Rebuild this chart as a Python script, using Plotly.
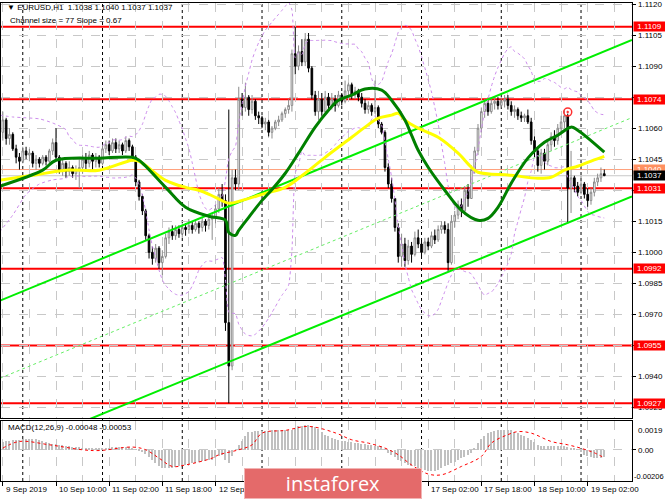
import plotly.graph_objects as go
import pandas as pd

# ---------------- data ----------------
open0 = 1.1058
closes = [1.1064,1.1055,1.1057,1.1050,1.1046,1.1044,1.1049,1.1047,1.1048,1.1043,
          1.1045,1.1043,1.1046,1.1044,1.1049,1.1053,1.1046,1.1040,1.1043,1.1039,
          1.1041,1.1038,1.1040,1.1041,1.1045,1.1043,1.1047,1.1044,1.1046,1.1043,
          1.1050,1.1052,1.1049,1.1053,1.1050,1.1052,1.1049,1.1054,1.1051,1.1046,
          1.1034,1.1027,1.1020,1.1008,1.1000,1.0997,1.1002,1.0995,1.0998,1.1007,
          1.1010,1.1008,1.1011,1.1009,1.1012,1.1011,1.1013,1.1011,1.1014,1.1012,
          1.1015,1.1013,1.1016,1.1017,1.1021,1.1028,1.1025,1.0966,1.0945,1.1036,
          1.1033,1.1074,1.1070,1.1075,1.1069,1.1073,1.1066,1.1065,1.1062,1.1063,
          1.1058,1.1060,1.1063,1.1064,1.1067,1.1069,1.1071,1.1096,1.1090,1.1097,
          1.1092,1.1103,1.1089,1.1076,1.1068,1.1074,1.1068,1.1075,1.1071,1.1074,
          1.1071,1.1076,1.1073,1.1078,1.1081,1.1076,1.1078,1.1075,1.1072,1.1069,
          1.1071,1.1068,1.1070,1.1062,1.1058,1.1041,1.1033,1.1026,1.1012,1.0998,
          1.1004,1.0996,1.1003,1.0999,1.1007,1.1004,1.1000,1.1005,1.1003,1.1008,
          1.1006,1.1011,1.1013,1.1011,1.0995,1.1015,1.1018,1.1023,1.1020,1.1030,
          1.1026,1.1040,1.1049,1.1060,1.1068,1.1072,1.1068,1.1072,1.1073,1.1071,
          1.1073,1.1074,1.1071,1.1068,1.1069,1.1066,1.1065,1.1066,1.1063,1.1054,
          1.1049,1.1042,1.1048,1.1044,1.1052,1.1056,1.1054,1.1060,1.1063,1.1066,
          1.1031,1.1036,1.1032,1.1029,1.1033,1.1028,1.1025,1.1029,1.1034,1.1036,
          1.1038,1.1037]
highs = [1.1068,1.1065,1.1060,1.1058,1.1052,1.1048,1.1051,1.1051,1.1050,1.1049,
         1.1047,1.1046,1.1047,1.1047,1.1050,1.1055,1.1060,1.1047,1.1045,1.1044,
         1.1044,1.1042,1.1042,1.1045,1.1047,1.1048,1.1049,1.1048,1.1048,1.1047,
         1.1052,1.1054,1.1054,1.1055,1.1055,1.1054,1.1053,1.1056,1.1055,1.1052,
         1.1047,1.1035,1.1028,1.1021,1.1009,1.1003,1.1004,1.1003,1.1001,1.1009,
         1.1012,1.1013,1.1013,1.1013,1.1014,1.1014,1.1016,1.1015,1.1016,1.1015,
         1.1017,1.1016,1.1018,1.1019,1.1023,1.1031,1.1033,1.1028,1.1069,1.1040,
         1.1040,1.1080,1.1077,1.1082,1.1076,1.1076,1.1074,1.1068,1.1066,1.1065,
         1.1064,1.1061,1.1064,1.1066,1.1068,1.1070,1.1074,1.1098,1.1109,1.1100,
         1.1103,1.1106,1.1106,1.1090,1.1078,1.1078,1.1077,1.1078,1.1077,1.1077,
         1.1076,1.1078,1.1077,1.1083,1.1082,1.1082,1.1080,1.1079,1.1077,1.1074,
         1.1073,1.1072,1.1083,1.1071,1.1063,1.1059,1.1043,1.1036,1.1026,1.1014,
         1.1009,1.1007,1.1006,1.1005,1.1010,1.1011,1.1006,1.1007,1.1007,1.1010,
         1.1011,1.1013,1.1015,1.1015,1.1014,1.1018,1.1020,1.1025,1.1026,1.1032,
         1.1033,1.1042,1.1051,1.1062,1.1070,1.1074,1.1074,1.1074,1.1075,1.1075,
         1.1075,1.1076,1.1076,1.1073,1.1071,1.1070,1.1068,1.1067,1.1069,1.1065,
         1.1056,1.1050,1.1050,1.1050,1.1054,1.1058,1.1059,1.1062,1.1066,1.1069,
         1.1067,1.1049,1.1037,1.1034,1.1037,1.1034,1.1031,1.1031,1.1036,1.1038,
         1.1041,1.1040]
lows = [1.1054,1.1052,1.1052,1.1049,1.1043,1.1040,1.1043,1.1045,1.1044,1.1041,
        1.1040,1.1041,1.1042,1.1042,1.1043,1.1047,1.1044,1.1038,1.1037,1.1036,
        1.1037,1.1036,1.1035,1.1031,1.1038,1.1040,1.1041,1.1040,1.1041,1.1041,
        1.1042,1.1048,1.1047,1.1048,1.1048,1.1048,1.1047,1.1048,1.1049,1.1044,
        1.1032,1.1025,1.1018,1.1006,1.0997,1.0994,1.0995,1.0992,1.0989,1.0997,
        1.1004,1.1006,1.1006,1.1007,1.1007,1.1008,1.1009,1.1009,1.1010,1.1009,
        1.1010,1.1010,1.1011,1.1006,1.1014,1.1019,1.1022,1.0962,1.0927,1.0943,
        1.1030,1.1030,1.1066,1.1068,1.1066,1.1067,1.1064,1.1062,1.1060,1.1059,
        1.1056,1.1055,1.1059,1.1061,1.1063,1.1065,1.1067,1.1068,1.1086,1.1088,
        1.1090,1.1090,1.1087,1.1074,1.1066,1.1064,1.1066,1.1067,1.1068,1.1069,
        1.1068,1.1070,1.1071,1.1072,1.1075,1.1074,1.1074,1.1073,1.1070,1.1067,
        1.1067,1.1066,1.1067,1.1060,1.1057,1.1039,1.1031,1.1024,1.1010,1.0995,
        1.0993,1.0993,1.0994,1.0995,1.0998,1.1002,1.0998,1.0999,1.1001,1.1002,
        1.1004,1.1005,1.1009,1.1009,1.0991,1.0994,1.1012,1.1016,1.1017,1.1018,
        1.1022,1.1026,1.1038,1.1047,1.1058,1.1065,1.1066,1.1067,1.1069,1.1069,
        1.1070,1.1070,1.1069,1.1066,1.1065,1.1064,1.1063,1.1063,1.1062,1.1052,
        1.1046,1.1039,1.1038,1.1040,1.1042,1.1049,1.1051,1.1052,1.1058,1.1060,
        1.1014,1.1019,1.1029,1.1027,1.1028,1.1026,1.1022,1.1023,1.1027,1.1032,
        1.1034,1.1037]

# moving averages sampled along the picture (bar index, price)
green_bar = [-1, 12, 16, 29, 39, 41, 49, 55, 62, 67, 68, 70, 71, 74, 78, 80, 85, 89, 94, 98,
             101, 105, 109, 114, 117, 121, 123, 125, 128, 133, 138, 143, 146, 149, 153, 158,
             163, 167, 171, 173, 181]
green_val = [1.10319, 1.10397, 1.10445, 1.10455, 1.10459, 1.10445, 1.10314, 1.10218, 1.10174,
             1.10155, 1.10096, 1.10082, 1.10106, 1.10169, 1.10251, 1.10285, 1.10382, 1.10479,
             1.10605, 1.10687, 1.10735, 1.10760, 1.10789, 1.10784, 1.10735, 1.10639, 1.10566,
             1.10493, 1.10411, 1.10300, 1.10203, 1.10155, 1.10164, 1.10217, 1.10334, 1.10455,
             1.10532, 1.10566, 1.10605, 1.10590, 1.10484]
yellow_bar = [-1, 9, 19, 29, 39, 41, 49, 55, 59, 64, 68, 72, 79, 85, 91, 97, 105, 109, 113,
              117, 119, 121, 125, 131, 137, 141, 143, 153, 161, 165, 169, 173, 176, 181]
yellow_val = [1.10348, 1.10372, 1.10397, 1.10397, 1.10445, 1.10440, 1.10348, 1.10314, 1.10300,
              1.10266, 1.10237, 1.10251, 1.10285, 1.10314, 1.10382, 1.10459, 1.10556, 1.10605,
              1.10648, 1.10663, 1.10672, 1.10639, 1.10600, 1.10556, 1.10479, 1.10411, 1.10387,
              1.10372, 1.10358, 1.10363, 1.10397, 1.10416, 1.10435, 1.10464]

# Bollinger band (20, 2) values seen before the first full 20-bar window
bb_period = 20
bb_dev = 2
bb_left_bar = [-1, 3, 7, 11, 15]
bb_left_upper = [1.10663, 1.10654, 1.10650, 1.10645, 1.10625]
bb_left_lower = [1.10098, 1.10180, 1.10280, 1.10330, 1.10350]

# regression channel (end points)
channel_bar = [-0.85, 189.34]
channel_upper = [1.09766, 1.11026]
channel_mid = [1.09391, 1.10651]
channel_lower = [1.09016, 1.10270]

# horizontal levels
red_levels = [1.1109, 1.1074, 1.1031, 1.0992, 1.0955, 1.0927]
ask_level = 1.1040
bid_level = 1.1037

# MACD histogram (units of 1e-5) and signal
macd_hist = [50, 55, 58, 62, 64,
             66, 68, 70, 70, 69, 68, 66, 60, 52,
             44, 40, 36, 33, 30, 26, 22,
             20, 18, 16, 15, 14, 13, 12, 11, 11,
             12, 13, 14, 16, 18, 19, 20, 21, 20,
             15, 5, -5, -15, -30,
             -45, -65, -90, -110, -120,
             -122, -120, -118, -115, -110,
             -105, -100, -95, -88, -84, -80, -76, -72, -69, -66,
             -55, -40, -35, -70, -90,
             -40, 0, 30, 60, 90,
             115, 120, 122, 124, 126,
             126, 127, 128, 128, 129, 129, 130, 131, 133, 145,
             155, 160, 165, 165, 160, 150,
             135, 118, 100, 88, 76, 68,
             64, 60, 56, 54, 50, 46, 42, 38, 35, 33,
             30, 28, 25, 22, 5, -20,
             -35, -50, -65, -77, -88, -98, -105, -110,
             -120, -128, -135, -138, -140, -138, -133,
             -120, -110, -100, -90, -78, -66,
             -55, -45, -35, -20, 10, 44,
             70, 90, 110, 120, 126, 130,
             132, 132, 130, 128, 120, 110,
             100, 90, 80, 65, 50, 33,
             28, 25, 24, 23, 22, 22, 22, 22, 20, 15, 8, 2,
             -15, -35, -44, -50, -52, -55, -52, -48]
signal_bar = [0, 5, 14, 24, 29, 39, 43, 47, 51, 55, 63, 65, 71, 75, 78, 85, 92, 100, 105, 110,
              115, 119, 123, 128, 132, 138, 144, 147, 152, 155, 159, 165, 170, 174, 178, 181]
signal_val = [11, 55, 33, 0, -5, 18, 0, -55, -110, -100, -55, -33, 0, 33, 110, 128, 154, 112,
              66, 44, 11, -33, -100, -160, -165, -110, -44, 44, 100, 120, 110, 55, 33, 10, -20, -53]

# time scale: ticks every 16 bars; labels hidden behind the logo are left out
time_tick_bars = [0, 16, 32, 48, 64, 80, 96, 112, 128, 144, 160, 176]
time_label_bars = [0, 16, 32, 48, 64, 128, 144, 160, 176]
time_labels = ["9 Sep 2019", "10 Sep 10:00", "11 Sep 02:00", "11 Sep 18:00", "12 Sep 10:00",
               "17 Sep 02:00", "17 Sep 18:00", "18 Sep 10:00", "19 Sep 02:00"]
day_start_bars = [6, 30, 54, 78, 102, 126, 150, 174]
price_ticks = [round(1.0925 + 0.0015 * i, 4) for i in range(14)]
# scale labels that the level boxes hide completely in the picture
hidden_price_labels = [1.1075, 1.1030, 1.0955]
signal_marker_bar = [170]
signal_marker_price = [1.10678]

# ---------------- layout helpers ----------------
W, H = 665, 499
FONT = "Liberation Sans, Arial, sans-serif"
def px(x):
    return x / W
def py(y):
    return 1 - y / H

n = len(closes)
bars = list(range(n))
opens = [open0] + closes[:-1]
highs_c = [max(h, o, c) for h, o, c in zip(highs, opens, closes)]
lows_c = [min(l, o, c) for l, o, c in zip(lows, opens, closes)]

# Bollinger bands from the closes
cs = pd.Series(closes)
bb_mid = cs.rolling(bb_period).mean()
bb_sd = cs.rolling(bb_period).std(ddof=0)
start = bb_period - 1
bb_x = bb_left_bar + bars[start:]
bb_up = bb_left_upper + (bb_mid + bb_dev * bb_sd)[start:].tolist()
bb_lo = bb_left_lower + (bb_mid - bb_dev * bb_sd)[start:].tolist()

fig = go.Figure()

fig.add_trace(go.Scatter(x=channel_bar, y=channel_mid, mode="lines",
                         line=dict(color="#66ee66", width=1, dash="dot"), hoverinfo="skip"))
fig.add_trace(go.Scatter(x=channel_bar, y=channel_upper, mode="lines",
                         line=dict(color="#00ee00", width=2), hoverinfo="skip"))
fig.add_trace(go.Scatter(x=channel_bar, y=channel_lower, mode="lines",
                         line=dict(color="#00ee00", width=2), hoverinfo="skip"))

fig.add_trace(go.Candlestick(
    x=bars, open=opens, high=highs_c, low=lows_c, close=closes,
    increasing=dict(line=dict(color="#8a8a8a", width=1), fillcolor="#ffffff"),
    decreasing=dict(line=dict(color="#000000", width=1), fillcolor="#000000"),
    whiskerwidth=0, hoverinfo="skip"))

for band in (bb_up, bb_lo):
    fig.add_trace(go.Scatter(x=bb_x, y=band, mode="lines",
                             line=dict(color="#cc8cec", width=1, dash="3px,3px", shape="spline",
                                       smoothing=0.6),
                             hoverinfo="skip"))

fig.add_trace(go.Scatter(x=yellow_bar, y=yellow_val, mode="lines",
                         line=dict(color="#ffff00", width=3, shape="spline"), hoverinfo="skip"))
fig.add_trace(go.Scatter(x=green_bar, y=green_val, mode="lines",
                         line=dict(color="#008000", width=3, shape="spline"), hoverinfo="skip"))
fig.add_trace(go.Scatter(x=signal_marker_bar, y=signal_marker_price, mode="markers",
                         marker=dict(symbol="circle-open-dot", color="#ff3030", size=8,
                                     line=dict(width=1.5)), hoverinfo="skip"))

# MACD panel
fig.add_trace(go.Bar(x=bars, y=[v * 1e-5 for v in macd_hist], xaxis="x2", yaxis="y2",
                     marker=dict(color="#c0c0c0", line=dict(width=0)), width=0.45,
                     hoverinfo="skip"))
fig.add_trace(go.Scatter(x=signal_bar, y=[v * 1e-5 for v in signal_val], xaxis="x2", yaxis="y2",
                         mode="lines", line=dict(color="#ff0000", width=1, dash="dot",
                                                  shape="spline"), hoverinfo="skip"))

xdom = [px(1), px(632)]
xrange = [-0.55, 189.34]
grid8 = list(range(0, 190, 8))
gridstyle = dict(showgrid=True, gridcolor="#c8c8c8", griddash="dash", gridwidth=1)

fig.update_layout(
    width=W, height=H, margin=dict(l=0, r=0, t=0, b=0),
    paper_bgcolor="white", plot_bgcolor="white", showlegend=False,
    font=dict(family=FONT, size=8, color="black"),
    bargap=0,
    xaxis=dict(domain=xdom, range=xrange, anchor="y", tickvals=grid8, showticklabels=False,
               ticks="", zeroline=False, showline=True, mirror=True, linecolor="black",
               rangeslider=dict(visible=False), **gridstyle),
    xaxis2=dict(domain=xdom, range=xrange, anchor="y2", matches="x", tickvals=time_tick_bars,
                showticklabels=False, ticks="outside", ticklen=4, tickcolor="black",
                zeroline=False, showline=True, mirror=True, linecolor="black",
                minor=dict(tickvals=grid8, showgrid=True, gridcolor="#c8c8c8", griddash="dash"),
                **gridstyle),
    yaxis=dict(domain=[py(418), py(3)], range=[1.09199, 1.11205], anchor="x", side="right",
               tickvals=price_ticks, showticklabels=False,
               ticks="outside", ticklen=3, tickcolor="black", zeroline=False,
               showline=True, mirror=True, linecolor="black", **gridstyle),
    yaxis2=dict(domain=[py(481), py(421)], range=[-0.00206, 0.0019], anchor="x2", side="right",
                tickvals=[0], showticklabels=False, ticks="outside", ticklen=3, tickcolor="black",
                zeroline=False, showline=True, mirror=True, linecolor="black", **gridstyle),
)

shapes = []
for lv in red_levels:
    shapes.append(dict(type="line", xref="x domain", yref="y", x0=0, x1=1, y0=lv, y1=lv,
                       line=dict(color="#ff0000", width=2), layer="below"))
shapes.append(dict(type="line", xref="x domain", yref="y", x0=0, x1=1, y0=ask_level, y1=ask_level,
                   line=dict(color="#ff9f7a", width=1), layer="below"))
shapes.append(dict(type="line", xref="x domain", yref="y", x0=0, x1=1, y0=bid_level, y1=bid_level,
                   line=dict(color="#c8c8c8", width=1), layer="below"))
for b in day_start_bars:
    shapes.append(dict(type="line", xref="x", yref="paper", x0=b, x1=b, y0=py(481), y1=py(3),
                       line=dict(color="black", width=1, dash="dot"), layer="below"))
fig.update_layout(shapes=shapes)

ann = []
ann.append(dict(text="\u25bc EURUSD,H1  1.1038 1.1040 1.1037 1.1037", xref="paper", yref="paper",
                x=px(5), y=py(7), xanchor="left", yanchor="middle", showarrow=False))
ann.append(dict(text="Channel size = 77 Slope = 0.67", xref="paper", yref="paper",
                x=px(8), y=py(20), xanchor="left", yanchor="middle", showarrow=False))
ann.append(dict(text="MACD(12,26,9) -0.00048 -0.00053", xref="paper", yref="paper",
                x=px(6), y=py(427), xanchor="left", yanchor="middle", showarrow=False))
# right-hand price scale labels
for v in price_ticks:
    if v in hidden_price_labels:
        continue
    ann.append(dict(text="%.4f" % v, xref="paper", yref="y", x=px(636), y=v, xanchor="left",
                    yanchor="middle", showarrow=False))
ann.append(dict(text="0.0019", xref="paper", yref="paper", x=px(636), y=py(430),
                xanchor="left", yanchor="middle", showarrow=False))
ann.append(dict(text="0.00", xref="paper", yref="paper", x=px(636), y=py(450),
                xanchor="left", yanchor="middle", showarrow=False))
ann.append(dict(text="-0.00206", xref="paper", yref="paper", x=px(632), y=py(476),
                xanchor="left", yanchor="middle", showarrow=False, font=dict(size=7.5)))
for lv in red_levels:
    ann.append(dict(text="%.4f" % lv, xref="paper", yref="y", x=px(633), y=lv, xanchor="left",
                    yanchor="middle", showarrow=False, bgcolor="#ff0000", width=31, height=9,
                    font=dict(color="white", size=8), borderpad=0))
ann.append(dict(text="%.4f" % ask_level, xref="paper", yref="y", x=px(633), y=ask_level,
                xanchor="left", yanchor="middle", showarrow=False, bgcolor="#ff9060", width=31,
                height=9, font=dict(color="white", size=8), borderpad=0))
ann.append(dict(text="%.4f" % bid_level, xref="paper", yref="y", x=px(633), y=bid_level,
                xanchor="left", yanchor="middle", showarrow=False, bgcolor="#000000", width=31,
                height=9, font=dict(color="white", size=8), borderpad=0))
for b, t in zip(time_label_bars, time_labels):
    ann.append(dict(text=t, xref="x2", yref="paper", x=b, y=py(489), xanchor="left",
                    yanchor="middle", showarrow=False, xshift=1))
ann.append(dict(text="instaforex", xref="paper", yref="paper", x=px(244), y=py(499),
                xanchor="left", yanchor="bottom", showarrow=False, bgcolor="#e46a6a",
                bordercolor="#f2b4b4", borderwidth=1, width=176, height=29, borderpad=0,
                font=dict(family="Open Sans, Lato, sans-serif", size=20, color="white")))
fig.update_layout(annotations=ann)

fig.write_html("out.html", config={"displayModeBar": False},
               post_script="document.body.style.margin='0px';document.body.style.overflow='hidden';")
